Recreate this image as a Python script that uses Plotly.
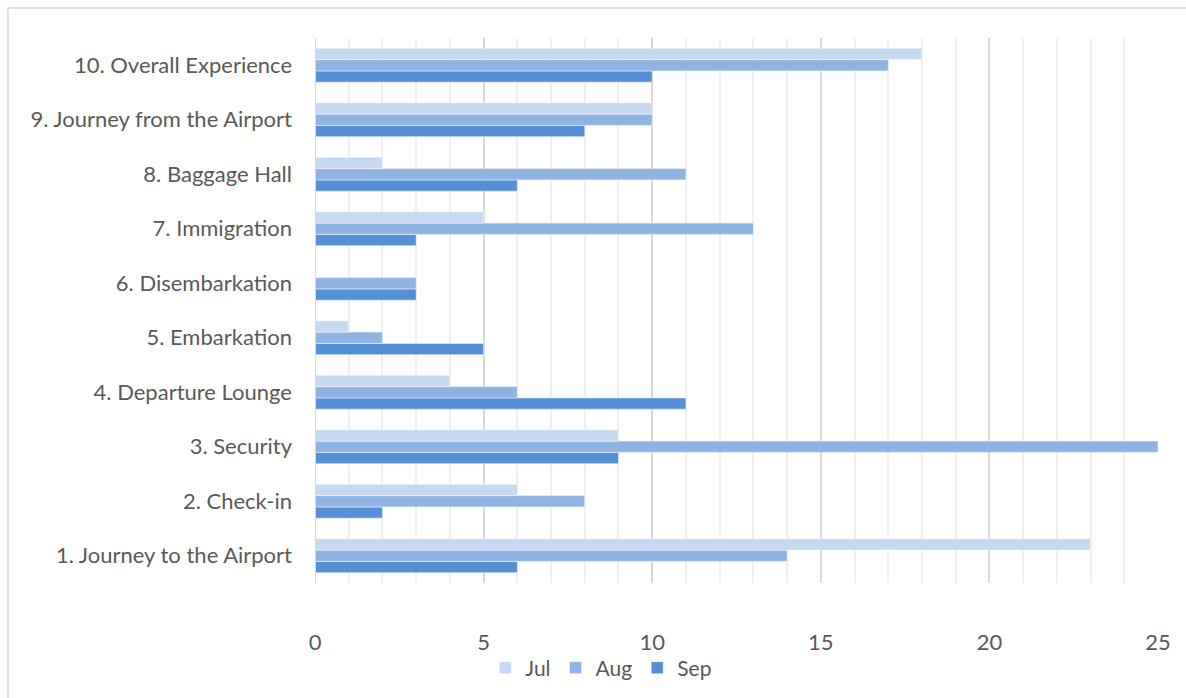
import plotly.graph_objects as go

categories = [
    "1. Journey to the Airport",
    "2. Check-in",
    "3. Security",
    "4. Departure Lounge",
    "5. Embarkation",
    "6. Disembarkation",
    "7. Immigration",
    "8. Baggage Hall",
    "9. Journey from the Airport",
    "10. Overall Experience",
]
jul = [23, 6, 9, 4, 1, 0, 5, 2, 10, 18]
aug = [14, 8, 25, 6, 2, 3, 13, 11, 10, 17]
sep = [6, 2, 9, 11, 5, 3, 3, 6, 8, 10]

x_ticks = [0, 5, 10, 15, 20, 25]

FONT = "Lato, 'Open Sans', sans-serif"
TEXT = "#595959"

fig = go.Figure()
# Sep first so it sits lowest within each group; legend is reversed below
for name, vals, color in [
    ("Sep", sep, "#5590d6"),
    ("Aug", aug, "#8fb4e3"),
    ("Jul", jul, "#c6d9f0"),
]:
    fig.add_trace(go.Bar(
        name=name, x=vals, y=categories, orientation="h",
        marker=dict(color=color, line=dict(color="rgba(255,255,255,0.6)", width=0.8)),
    ))

fig.update_layout(
    width=1186, height=698,
    margin=dict(l=315, r=28, t=38, b=115, autoexpand=False),
    paper_bgcolor="white", plot_bgcolor="white",
    barmode="group", bargap=0.38, bargroupgap=0,
    font=dict(family=FONT, size=22, color=TEXT),
    showlegend=True,
    legend=dict(
        orientation="h", traceorder="reversed",
        xref="container", yref="container",
        x=0.507, xanchor="center", y=0.043, yanchor="middle",
        bgcolor="rgba(0,0,0,0)",
        font=dict(family=FONT, size=21, color=TEXT),
        itemwidth=30,
    ),
    xaxis=dict(
        range=[0, 25], tickvals=x_ticks,
        showgrid=True, gridcolor="#d9d9d9", gridwidth=1.5,
        zeroline=False, showline=False, automargin=False,
        ticks="", ticklabelstandoff=44,
        minor=dict(dtick=1, showgrid=True, gridcolor="#f0f0f0", gridwidth=1.5),
        fixedrange=True,
    ),
    yaxis=dict(
        type="category", categoryorder="array", categoryarray=categories,
        range=[-0.5, 9.5], automargin=False,
        showgrid=False, zeroline=False, showline=False,
        ticks="", ticklabelstandoff=22,
        fixedrange=True,
    ),
    shapes=[dict(
        type="rect", xref="paper", yref="paper",
        x0=(8 - 315) / (1186 - 315 - 28), x1=1.2,
        y0=-0.3, y1=1 + 30 / (698 - 38 - 115),
        line=dict(color="#d9d9d9", width=1.5), fillcolor="rgba(0,0,0,0)",
        layer="below",
    ), dict(
        type="line", xref="x", yref="paper", x0=0, x1=0, y0=0, y1=1,
        line=dict(color="#d9d9d9", width=2), layer="above",
    )],
)

fig.write_html("out.html")
